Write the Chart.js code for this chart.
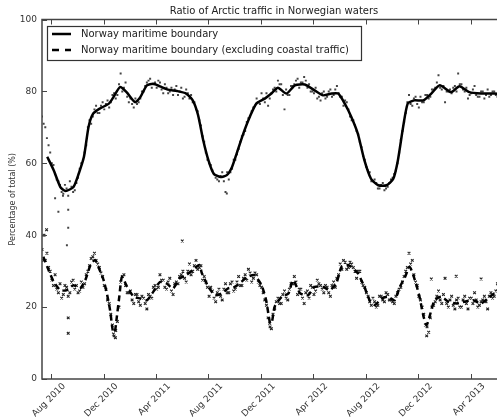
<!DOCTYPE html>
<html><head><meta charset="utf-8">
<script src="https://cdn.jsdelivr.net/npm/chart.js@4/dist/chart.umd.min.js"></script>
<style>html,body{margin:0;padding:0;overflow:hidden;background:#fff}#wrap{width:548px;height:419px}</style>
</head><body><div id="wrap"><canvas id="c" width="548" height="419"></canvas></div>
<script>
// x values are months since 1 Aug 2010
const tickMonths = [0,4,8,12,16,20,24,28,32];
const tickLabels = ["Aug 2010","Dec 2010","Apr 2011","Aug 2011","Dec 2011","Apr 2012","Aug 2012","Dec 2012","Apr 2013"];
const yTicks = [0,20,40,60,80,100];

const upperLineMonths = [-0.3,0.2,0.7,1.1,1.7,2.1,2.5,2.85,3.2,3.7, 4.4,4.75,5.25,5.75,6.4,6.8,7.3,7.8,8.3,8.9, 9.6,10.3,10.8,11.2,11.6,12.0,12.4,12.9,13.4,13.8, 14.15,14.65,15.15,15.65,16.3,16.8,17.3,17.95,18.6,19.35, 20.1,20.75,21.4,21.9,22.4,22.9,23.4,23.9,24.4,24.95, 25.6,26.1,26.45,26.85,27.2,27.7,28.4,29.0,29.65,30.5, 31.15,31.9,32.8,33.8,34.7];
const upperLineValues = [61.8,58.0,53.4,52.3,53.4,57.1,61.8,70.1,73.8,75.2, 76.6,78.4,81.2,79.8,77.0,78.4,81.7,82.1,81.4,80.5, 80.1,79.4,77.5,73.5,66.4,60.8,57.1,56.2,56.7,59.0, 62.7,68.2,72.9,76.6,78.0,79.4,81.0,79.4,81.7,81.9, 80.3,78.9,79.4,79.4,76.6,72.9,68.2,60.8,55.7,53.9, 53.9,55.7,60.8,70.1,76.6,77.5,77.5,79.4,81.7,79.8, 81.4,79.8,79.4,79.4,79.0];

const lowerLineMonths = [-0.6,-0.2,0.2,0.7,1.2,1.7,2.2,2.6,3.0,3.35, 3.7,4.0,4.25,4.5,4.7,4.85,5.0,5.2,5.4,5.8, 6.3,6.8,7.3,7.8,8.3,8.8,9.3,9.8,10.3,10.8, 11.3,11.5,12.0,12.5,13.0,13.5,14.0,14.5,15.0,15.5, 16.05,16.4,16.7,16.85,17.05,17.6,18.1,18.45,19.0,19.6, 20.1,20.75,21.25,21.75,22.15,22.6,22.9,23.4,23.9,24.3, 24.7,25.2,25.7,26.2,26.6,27.0,27.35,27.75,28.1,28.4, 28.65,28.9,29.25,29.75,30.3,30.9,31.5,32.2,32.8,33.3, 33.8,34.7];
const lowerLineValues = [34,30.3,27,24.7,24.7,26.1,25.2,27.5,31.7,33.1, 30.3,27.5,23.8,19,13.5,13,17,23,28.4,25.6, 22.9,22.4,21.9,24.3,27,26.6,25.2,28,28.9,30.3, 31.7,29.4,25.6,23.3,23.8,25.2,25.6,27,28.4,28.9, 26.1,21.9,15.5,16,20.1,22.9,23.8,27.5,23.8,23.3, 25.6,25.6,24.7,26.6,31.2,31.7,31.2,29.4,25.6,21.9, 20.6,22.4,22.9,21.9,25.6,28.4,31.2,27.5,22.9,17.5, 15,17.8,21.9,22.9,21.5,21,21.5,21.9,21,22.4, 23.8,27];

const sampleMonths = [-0.7,-0.45,-0.2,0.05,0.3,0.55,0.8,1.05,1.3,1.55, 1.8,2.05,2.3,2.55,2.8,3.05,3.3,3.55,3.8,4.05, 4.3,4.55,4.8,5.05,5.3,5.55,5.8,6.05,6.3,6.55, 6.8,7.05,7.3,7.55,7.8,8.05,8.3,8.55,8.8,9.05, 9.3,9.55,9.8,10.05,10.3,10.55,10.8,11.05,11.3,11.55, 11.8,12.05,12.3,12.55,12.8,13.05,13.3,13.55,13.8,14.05, 14.3,14.55,14.8,15.05,15.3,15.55,15.8,16.05,16.3,16.55, 16.8,17.05,17.3,17.55,17.8,18.05,18.3,18.55,18.8,19.05, 19.3,19.55,19.8,20.05,20.3,20.55,20.8,21.05,21.3,21.55, 21.8,22.05,22.3,22.55,22.8,23.05,23.3,23.55,23.8,24.05, 24.3,24.55,24.8,25.05,25.3,25.55,25.8,26.05,26.3,26.55, 26.8,27.05,27.3,27.55,27.8,28.05,28.3,28.55,28.8,29.05, 29.3,29.55,29.8,30.05,30.3,30.55,30.8,31.05,31.3,31.55, 31.8,32.05,32.3,32.55,32.8,33.05,33.3,33.55,33.8,34.05, 34.3,34.55];
const upperDotValues = [73,70,65,60,57,55,52,54,51,53.5, 52.5,56,60,63,70,71,75,74,76,75, 77.5,77,79.5,79,85,81,78.5,78,75.5,76.5, 78,80,82.5,83.5,82,81,82.5,79.5,81,80, 79,81.5,80,78,80.5,78,77,75,72,67.5, 63,60,58,56,55,57.5,52,55.5,58.5,61, 64,67.5,69,72.5,74.5,76,77,79.5,77,76, 79.5,81,83,82,75,79,81.5,82,83.5,82.5, 84,81,80,79.5,78,77.5,80,78.5,80.5,79, 81.5,78.5,76,77,73,72,69,66,62,59, 57.5,55,54.5,53,54.5,53,54.5,56,58,63, 69,74,79,76,78.5,75.5,77,79,78,80.5, 81,84.5,80.5,77,80,79.5,81.5,85,82,80, 78,79.5,81.5,78.5,80,78,80.5,79,80,78.5, 79.5,78.5];
const lowerDotValues = [36,33,31,27.5,29,24,22.5,26,23,27, 25,24,27,26.5,30,33.5,35,32,29.5,26, 22,18,12,16,27,29,24,24.5,21,23.5, 20.5,22.5,19.5,23,25.5,25,29,27.5,25,28, 23.5,27,28.5,30,27,32,30,33,31,27.5, 27,23,24.5,21.5,25,22,26.5,24,27,25, 28.5,26,29,30.5,27,29.5,27,25.5,22,17, 14,19.5,22.5,21,24.5,22,26.5,28.5,23.5,25, 21,24.5,26,23.5,27.5,26,24,25.5,23,27, 28,32,33,30.5,32.5,31,28,30,26,24, 21.5,22.5,20,23,22,24,22,21.5,23,25, 27,30,35,33,27,23,20,15,13,20, 21.5,24.5,21,28,20,23,19.5,22.5,20,23, 19.5,22.5,24,20,21.5,23,19.5,24,23,26.5, 28,30];

const sampleMonths2 = [-0.575,-0.325,-0.075,0.175,0.425,0.675,0.925,1.175,1.425,1.675, 1.925,2.175,2.425,2.675,2.925,3.175,3.425,3.675,3.925,4.175, 4.425,4.675,4.925,5.175,5.425,5.675,5.925,6.175,6.425,6.675, 6.925,7.175,7.425,7.675,7.925,8.175,8.425,8.675,8.925,9.175, 9.425,9.675,9.925,10.175,10.425,10.675,10.925,11.175,11.425,11.675, 11.925,12.175,12.425,12.675,12.925,13.175,13.425,13.675,13.925,14.175, 14.425,14.675,14.925,15.175,15.425,15.675,15.925,16.175,16.425,16.675, 16.925,17.175,17.425,17.675,17.925,18.175,18.425,18.675,18.925,19.175, 19.425,19.675,19.925,20.175,20.425,20.675,20.925,21.175,21.425,21.675, 21.925,22.175,22.425,22.675,22.925,23.175,23.425,23.675,23.925,24.175, 24.425,24.675,24.925,25.175,25.425,25.675,25.925,26.175,26.425,26.675, 26.925,27.175,27.425,27.675,27.925,28.175,28.425,28.675,28.925,29.175, 29.425,29.675,29.925,30.175,30.425,30.675,30.925,31.175,31.425,31.675, 31.925,32.175,32.425,32.675,32.925,33.175,33.425,33.675,33.925,34.175, 34.425,34.675];
const upperDotValues2 = [71,67,63,59.5,55.5,54,51.5,53,55,52, 54.5,58.5,61,65,72,73,76,74,77,76.5, 75.5,79,78,82,80,82.5,77,76.5,78,77, 80,81.5,83,81,82.5,83,80.5,82,79.5,81, 80.5,79,81,78.5,79.5,79,77,74.5,70.5,66, 61,59.5,57,55.5,56.5,55,57.5,57.5,61,62.5, 66,68,71.5,73,75.5,78,76.5,78,79.5,78, 80.5,80,82,79,80.5,79,81.5,83,81,82.5, 83,82,80,81,78.5,79.5,78,80,78.5,80.5, 79.5,78.5,77.5,75,72,70.5,68,64.5,61,58, 55,55.5,53,54,52.5,53.5,55.5,57,60,66.5, 71.5,77,76.5,78,76.5,78.5,77,79,78.5,80.5, 82.5,81,81.5,80,80.5,81,80,82,80.5,81, 79,80.5,79,78.5,80,79,78.5,80,79,80, 78.5,79.5];
const lowerDotValues2 = [33,35,30,26,25,26.5,23.5,25.5,24,27.5, 26,24.5,25.5,29,31.5,34,33,31,28.5,25, 21,15,13.5,20,28.5,26,24,22,23.5,21.5, 23,21,23.5,22.5,26,25.5,27.5,25.5,27,24.5, 26.5,26.5,29,28,30,29,31.5,30.5,31.5,28.5, 25.5,25.5,22.5,24,23,25,24,26.5,24.5,27, 26,28,27.5,29.5,28,29,26,24,20.5,15.5, 18,21.5,21,23.5,22.5,25,26.5,27,25,22.5, 24,22.5,25.5,24.5,26.5,25,26,24,26,25.5, 29,30.5,32.5,31,32,30,30,27,25.5,23, 20.5,21.5,20.5,23,21.5,23.5,22,21,24,25.5, 28.5,31,32,29,26,22,18,14.5,17,20.5, 23,22,23.5,21,22,20.5,22,20,22,21, 22.5,21,22,20.5,22,21.5,23,22.5,24.5,26, 27,29];

const upperExtraMonths = [0.3,0.55,1.3,1.3,1.2,0.9,13.4];
const upperExtraValues = [50.3,46.5,47.1,42.1,37.2,51,51.6];
const lowerExtraMonths = [-0.55,-0.35,10.0,29.0,30.9,32.8,1.3,1.3,4.75,4.9,16.7,28.65];
const lowerExtraValues = [40,41.5,38.4,27.8,28.6,27.8,17,12.7,12.5,11.5,14.5,12];

const seriesNames = ["Norway maritime boundary","Norway maritime boundary (excluding coastal traffic)"];

const pts = (xs, ys) => xs.map((x, i) => ({x, y: ys[i]}));
const FONT = "'DejaVu Sans', sans-serif";
const FRAME = '#444';

const framePlugin = {
  id: 'frame',
  afterLayout(chart) {
    // centre the title over the plot area (as in the original)
    if (chart.titleBlock) {
      chart.titleBlock.left = chart.chartArea.left;
      chart.titleBlock.right = chart.chartArea.right;
    }
  },
  afterDraw(chart) {
    const {ctx, chartArea: a, scales: {x, y}} = chart;
    ctx.save();
    ctx.strokeStyle = FRAME;
    ctx.lineWidth = 1.5;
    ctx.strokeRect(a.left, a.top, a.right - a.left, a.bottom - a.top);
    ctx.lineWidth = 1;
    ctx.beginPath();
    tickMonths.forEach(m => {
      const px = Math.round(x.getPixelForValue(m)) + 0.5;
      ctx.moveTo(px, a.bottom); ctx.lineTo(px, a.bottom - 5);
      ctx.moveTo(px, a.top); ctx.lineTo(px, a.top + 5);
    });
    yTicks.forEach(v => {
      const py = Math.round(y.getPixelForValue(v)) + 0.5;
      ctx.moveTo(a.left, py); ctx.lineTo(a.left + 5, py);
    });
    ctx.stroke();
    // legend box
    const lx = 47, ly = 26, lw = 314, lh = 34;
    ctx.fillStyle = '#fff';
    ctx.fillRect(lx, ly, lw, lh);
    ctx.strokeStyle = '#333';
    ctx.lineWidth = 1.2;
    ctx.strokeRect(lx + 0.5, ly + 0.5, lw, lh);
    ctx.strokeStyle = '#000';
    ctx.lineWidth = 2.5;
    ctx.beginPath(); ctx.moveTo(52, 34); ctx.lineTo(71, 34); ctx.stroke();
    ctx.setLineDash([7, 6]);
    ctx.beginPath(); ctx.moveTo(52, 50); ctx.lineTo(71, 50); ctx.stroke();
    ctx.setLineDash([]);
    ctx.fillStyle = '#222';
    ctx.font = "10px " + FONT;
    ctx.textBaseline = 'middle';
    ctx.textAlign = 'left';
    ctx.fillText(seriesNames[0], 81, 34);
    ctx.fillText(seriesNames[1], 81, 50);
    ctx.restore();
  }
};

const upperDots = pts(sampleMonths, upperDotValues).concat(pts(sampleMonths2, upperDotValues2), pts(upperExtraMonths, upperExtraValues));
const lowerDots = pts(sampleMonths, lowerDotValues).concat(pts(sampleMonths2, lowerDotValues2), pts(lowerExtraMonths, lowerExtraValues));

new Chart(document.getElementById('c'), {
  type: 'scatter',
  data: {
    datasets: [
      {label: seriesNames[0], data: pts(upperLineMonths, upperLineValues), showLine: true, borderColor: '#000', borderWidth: 2.5, pointRadius: 0, tension: 0.2, order: 0},
      {label: seriesNames[1], data: pts(lowerLineMonths, lowerLineValues), showLine: true, borderColor: '#000', borderWidth: 2.5, borderDash: [6, 4], pointRadius: 0, tension: 0.2, order: 0},
      {label: 'u', data: upperDots, pointStyle: 'rect', pointRadius: 1.4, backgroundColor: '#444', borderWidth: 0, order: 1},
      {label: 'l', data: lowerDots, pointStyle: 'crossRot', pointRadius: 1.9, borderColor: '#222', borderWidth: 1.1, order: 1}
    ]
  },
  options: {
    responsive: false,
    animation: false,
    events: [],
    layout: {padding: {left: 0, right: 42, top: 0, bottom: 0}},
    plugins: {
      legend: {display: false},
      tooltip: {enabled: false},
      title: {display: true, text: 'Ratio of Arctic traffic in Norwegian waters', color: '#222', font: {family: FONT, size: 10, weight: 'normal'}, padding: {top: 5, bottom: 2.5}}
    },
    scales: {
      x: {
        type: 'linear', min: -0.7, max: 34.7,
        afterBuildTicks: s => { s.ticks = tickMonths.map(v => ({value: v})); },
        afterFit: s => { s.height = 40; },
        grid: {display: false, drawTicks: false},
        border: {display: false},
        ticks: {autoSkip: false, minRotation: 45, maxRotation: 45, padding: 2, labelOffset: 13, color: '#333', font: {family: FONT, size: 9},
          callback: (v, i) => tickLabels[i]}
      },
      y: {
        min: 0, max: 100,
        afterBuildTicks: s => { s.ticks = yTicks.map(v => ({value: v})); },
        afterFit: s => { s.width = 42; },
        grid: {display: false, drawTicks: false},
        border: {display: false},
        ticks: {padding: 5, color: '#333', font: {family: FONT, size: 9}},
        title: {display: true, text: 'Percentage of total (%)', color: '#333', font: {family: FONT, size: 8}, padding: {top: 8, bottom: 0}}
      }
    }
  },
  plugins: [framePlugin]
});
</script>
</body></html>
